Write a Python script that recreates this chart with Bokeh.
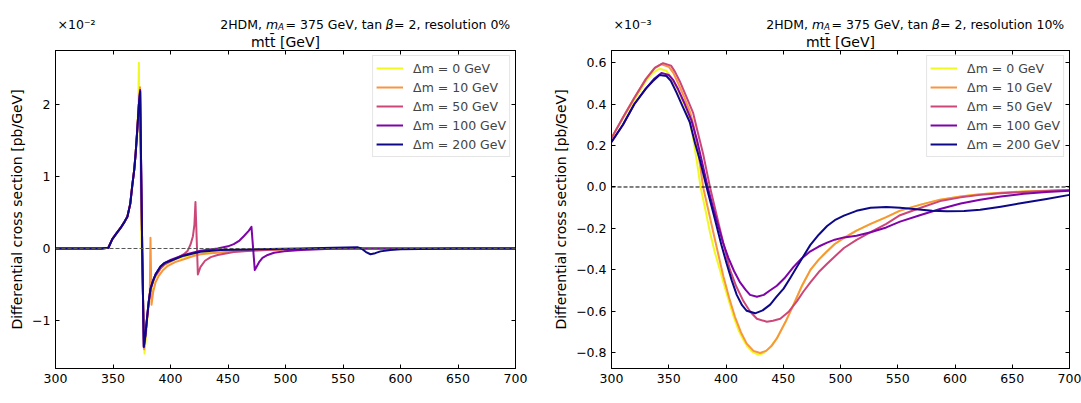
from bokeh.plotting import figure
from bokeh.models import (Range1d, LinearAxis, FixedTicker, CustomJSTickFormatter,
                          Span, Label, Legend, LegendItem)
from bokeh.layouts import row, column
from bokeh.embed import file_html
from bokeh.resources import INLINE

FONT = "DejaVu Sans"

# ---------------- data ----------------
series_labels = ["Δm = 0 GeV", "Δm = 10 GeV", "Δm = 50 GeV", "Δm = 100 GeV", "Δm = 200 GeV"]
series_colors = ["#f0f921", "#f89540", "#cc4778", "#7e03a8", "#0d0887"]
x_ticks = [300, 350, 400, 450, 500, 550, 600, 650, 700]
left_y_ticks = [-1, 0, 1, 2]
right_y_ticks = [-0.8, -0.6, -0.4, -0.2, 0.0, 0.2, 0.4, 0.6]
x_axis_title = "mtt\u0304 [GeV]"
y_axis_title = "Differential cross section [pb/GeV]"

# Left panel (resolution 0%), values in units of 1e-2 pb/GeV
left_x_dm0 = [300, 340, 346, 349.4, 353, 356.6, 360, 362.5, 365, 366.8, 368.5, 369.7, 371.2, 372.0, 372.5,
              373.2, 375.0, 377.4, 378.5, 379.7, 381, 382.6, 385, 387, 391.3, 395, 400, 405, 411.6, 420, 426,
              435, 443.5, 455, 470, 500, 550, 600, 700]
left_y_dm0 = [0, 0, 0.01, 0.13, 0.21, 0.285, 0.37, 0.44, 0.62, 0.88, 1.1, 1.32, 1.67, 2.0, 2.58,
              1.6, 0.0, -1.46, -1.25, -1.0, -0.8, -0.62, -0.48, -0.40, -0.28, -0.23, -0.19, -0.15, -0.12, -0.09, -0.07,
              -0.055, -0.04, -0.03, -0.02, -0.01, 0, 0, 0]

left_x_dm10 = [300, 340, 346, 349.4, 353, 356.6, 360, 362.5, 365, 366.8, 368.5, 369.7, 371.2, 372.5, 373.5,
               375.2, 377.0, 378.5, 379.7, 381.0, 382.0, 382.6, 383.5, 385, 387, 389.8, 393, 397, 404, 411.6,
               420, 426, 435, 443.5, 455, 470, 484, 510, 560, 700]
left_y_dm10 = [0, 0, 0.01, 0.13, 0.21, 0.285, 0.37, 0.44, 0.62, 0.88, 1.1, 1.32, 1.67, 2.0, 2.24,
               0.0, -1.40, -1.2, -0.98, -0.78, -0.6, 0.15, -0.78, -0.6, -0.47, -0.38, -0.31, -0.25, -0.19, -0.15,
               -0.105, -0.08, -0.065, -0.055, -0.04, -0.03, -0.02, -0.01, 0, 0]

left_x_dm50 = [300, 340, 346, 349.4, 353, 356.6, 360, 362.5, 365, 366.8, 368.5, 369.7, 371.2, 372.5, 373.6,
               375.4, 376.8, 378.2, 379.7, 381, 382.6, 385, 387, 391.3, 395, 400, 406, 411.6, 415, 417.5,
               419.5, 420.8, 421.7, 423.8, 426, 430, 435, 441, 455, 470, 500, 540, 700]
left_y_dm50 = [0, 0, 0.01, 0.13, 0.21, 0.285, 0.37, 0.44, 0.62, 0.88, 1.1, 1.32, 1.67, 2.0, 2.2,
               0.0, -1.37, -1.2, -0.95, -0.75, -0.57, -0.45, -0.38, -0.28, -0.22, -0.18, -0.13, -0.08, -0.03, 0.06,
               0.17, 0.33, 0.645, -0.36, -0.26, -0.17, -0.12, -0.09, -0.05, -0.03, -0.01, 0, 0]

left_x_dm100 = [300, 340, 346, 349.4, 353, 356.6, 360, 362.5, 365, 366.8, 368.5, 369.7, 371.2, 372.5, 373.6,
                375.4, 376.8, 378.2, 379.7, 381, 382.6, 385, 387, 391.3, 395, 400, 411.6, 426, 441, 450,
                455, 460, 463.7, 468, 470.4, 473.3, 475, 477, 480, 484.5, 490, 498.7, 513.5, 540, 560, 700]
left_y_dm100 = [0, 0, 0.01, 0.13, 0.21, 0.285, 0.37, 0.44, 0.62, 0.88, 1.1, 1.32, 1.67, 2.0, 2.2,
                0.0, -1.37, -1.2, -0.95, -0.75, -0.56, -0.44, -0.36, -0.25, -0.2, -0.16, -0.09, -0.03, 0.0, 0.03,
                0.06, 0.11, 0.17, 0.245, 0.30, -0.30, -0.25, -0.19, -0.13, -0.09, -0.06, -0.04, -0.02, -0.005, 0, 0]

left_x_dm200 = [300, 340, 346, 349.4, 353, 356.6, 360, 362.5, 365, 366.8, 368.5, 369.7, 371.2, 372.5, 373.6,
                375.4, 376.8, 378.2, 379.7, 381, 382.6, 385, 387, 391.3, 395, 400, 411.6, 426, 443.5, 470,
                513.5, 542, 563, 566, 570, 573.9, 578, 582.6, 591.3, 600, 650, 700]
left_y_dm200 = [0, 0, 0.01, 0.13, 0.21, 0.285, 0.37, 0.44, 0.62, 0.88, 1.1, 1.32, 1.67, 2.0, 2.18,
                0.0, -1.36, -1.2, -0.95, -0.75, -0.56, -0.44, -0.36, -0.25, -0.2, -0.17, -0.10, -0.045, -0.02, -0.013,
                0.0, 0.01, 0.016, 0.0, -0.05, -0.08, -0.065, -0.04, -0.02, -0.01, 0, 0]

# Right panel (resolution 10%), values in units of 1e-3 pb/GeV
right_x_dm0 = [300, 310, 320, 330, 336, 342, 348, 352, 356.7, 361, 365.5, 368.5, 371.3, 374.5, 377.8, 382,
               386, 390, 394.7, 399, 403.5, 407, 410.8, 414.5, 418.1, 423, 428.4, 433, 438, 444.4, 452, 459,
               466, 473.7, 481, 488.3, 495, 503, 514, 526.3, 540, 552, 570, 587, 605, 622, 640, 660, 680, 700]
right_y_dm0 = [0.236, 0.33, 0.42, 0.51, 0.55, 0.57, 0.56, 0.53, 0.479, 0.43, 0.373, 0.31, 0.236, 0.125, 0.0,
               -0.11, -0.218, -0.31, -0.40, -0.485, -0.567, -0.63, -0.688, -0.73, -0.764, -0.795, -0.809, -0.80,
               -0.775, -0.73, -0.65, -0.567, -0.48, -0.40, -0.35, -0.31, -0.275, -0.245, -0.21, -0.178, -0.145,
               -0.114, -0.085, -0.061, -0.046, -0.035, -0.028, -0.022, -0.018, -0.015]

right_x_dm10 = [300, 310, 320, 330, 337, 343.6, 350, 354, 358.2, 363, 368.4, 372, 375, 377.5, 380, 384.5,
                388.9, 393.3, 397.7, 402.8, 407.9, 413, 418.1, 424, 429.8, 435, 440, 444.4, 452, 459, 466,
                473.7, 481, 488.3, 495, 503, 514, 526.3, 540, 552, 570, 587, 605, 622, 640, 660, 680, 700]
right_y_dm10 = [0.236, 0.335, 0.43, 0.52, 0.57, 0.592, 0.58, 0.55, 0.50, 0.44, 0.365, 0.29, 0.19, 0.1, 0.0,
                -0.11, -0.218, -0.325, -0.43, -0.535, -0.627, -0.70, -0.755, -0.79, -0.80, -0.79, -0.765, -0.73,
                -0.65, -0.567, -0.48, -0.40, -0.35, -0.31, -0.275, -0.245, -0.21, -0.178, -0.145, -0.114, -0.085,
                -0.061, -0.046, -0.035, -0.028, -0.022, -0.018, -0.015]

right_x_dm50 = [300, 310, 320, 330, 338, 345, 352, 355.5, 359.6, 365, 371.3, 375.5, 380, 383, 386, 390.3,
                394.7, 399, 403.5, 409, 415.2, 421, 427, 435.7, 441, 447.4, 455, 462, 467.5, 473.7, 481,
                488.3, 495, 503, 514, 526.3, 540, 552, 570, 587, 605, 622, 640, 660, 680, 700]
right_y_dm50 = [0.236, 0.335, 0.43, 0.52, 0.575, 0.597, 0.585, 0.555, 0.51, 0.44, 0.357, 0.26, 0.16, 0.08, 0.0,
                -0.10, -0.203, -0.30, -0.40, -0.48, -0.55, -0.60, -0.635, -0.65, -0.645, -0.635, -0.60, -0.55,
                -0.505, -0.46, -0.41, -0.37, -0.335, -0.294, -0.255, -0.218, -0.178, -0.136, -0.10, -0.068,
                -0.05, -0.038, -0.03, -0.024, -0.019, -0.015]

right_x_dm100 = [300, 310, 320, 330, 337, 343.6, 350, 354, 358.2, 364, 369.9, 374.5, 378.7, 384, 388.5, 393.3,
                 397.5, 402, 407, 412.3, 417, 421, 427, 433, 438, 444.4, 451, 459, 466, 473.7, 481, 488.3, 495,
                 503, 514, 526.3, 540, 552, 570, 587, 605, 622, 640, 660, 680, 700]
right_y_dm100 = [0.217, 0.30, 0.40, 0.474, 0.52, 0.55, 0.54, 0.515, 0.471, 0.40, 0.32, 0.23, 0.13, 0.0, -0.095,
                 -0.188, -0.27, -0.34, -0.405, -0.46, -0.495, -0.52, -0.529, -0.52, -0.5, -0.476, -0.44, -0.385,
                 -0.345, -0.31, -0.287, -0.268, -0.254, -0.243, -0.235, -0.218, -0.195, -0.167, -0.135, -0.106,
                 -0.08, -0.061, -0.046, -0.033, -0.024, -0.018]

right_x_dm200 = [300, 310, 320, 330, 336, 342, 348, 352, 356.7, 362, 368.4, 373, 377.2, 383, 387.5, 391.8,
                 396, 400.6, 405, 409.4, 414, 418.1, 425.4, 432, 438.6, 444, 450.3, 456, 462, 468, 473.7, 481,
                 488.3, 495, 503, 514, 526.3, 540, 552, 564, 580, 593, 608, 622, 640, 660, 680, 700]
right_y_dm200 = [0.217, 0.30, 0.40, 0.474, 0.51, 0.54, 0.535, 0.51, 0.456, 0.39, 0.312, 0.21, 0.13, 0.0, -0.095,
                 -0.188, -0.28, -0.37, -0.45, -0.52, -0.57, -0.597, -0.609, -0.595, -0.567, -0.53, -0.49, -0.44,
                 -0.385, -0.33, -0.279, -0.23, -0.188, -0.16, -0.138, -0.115, -0.10, -0.097, -0.10, -0.106,
                 -0.115, -0.117, -0.116, -0.11, -0.095, -0.076, -0.058, -0.038]

left_series = [(left_x_dm0, left_y_dm0), (left_x_dm10, left_y_dm10), (left_x_dm50, left_y_dm50),
               (left_x_dm100, left_y_dm100), (left_x_dm200, left_y_dm200)]
right_series = [(right_x_dm0, right_y_dm0), (right_x_dm10, right_y_dm10), (right_x_dm50, right_y_dm50),
                (right_x_dm100, right_y_dm100), (right_x_dm200, right_y_dm200)]

# ---------------- text helpers ----------------
W = {' ': 651, ',': 651, '%': 1946, '=': 1716, 'A': 1401, 'D': 1577, 'G': 1577, 'H': 1540, 'M': 1767,
     'V': 1401, 'a': 1255, 'e': 1260, 'i': 569, 'l': 569, 'm': 1995, 'n': 1298, 'o': 1253, 'r': 842,
     's': 1067, 't': 803, 'u': 1298, 'β': 1300, '[': 799, ']': 799, '\u0304': 0}
for d in "0123456789":
    W[d] = 1303


def tw(s, size):
    return sum(W.get(c, 1200) for c in s) / 2048.0 * size


def rich(p, pieces, x0, y0, align="left"):
    # pieces: (text, size, italic, dy, dx_before)
    total = sum(tw(t, s) + dx for t, s, it, dy, dx in pieces)
    if align == "right":
        x = x0 - total
    elif align == "center":
        x = x0 - total / 2.0
    else:
        x = x0
    for t, s, it, dy, dx in pieces:
        x += dx
        p.add_layout(Label(x=x, y=y0 + dy, text=t,
                           text_font=FONT, text_font_size=f"{s}px",
                           text_font_style="italic" if it else "normal",
                           text_baseline="alphabetic", text_align="left", text_color="black"))
        x += tw(t, s)


TOTAL_W = 1081
HEAD_H, MAIN_H = 30, 373
L_FRAME = (55, 515)
R_FRAME = (611, 1069)


def strip_fig(h):
    f = figure(width=TOTAL_W, height=h, x_range=Range1d(0, TOTAL_W), y_range=Range1d(0, h),
               x_axis_type=None, y_axis_type=None, output_backend="svg", toolbar_location=None,
               min_border=0, outline_line_color=None, title=None)
    f.background_fill_color = "white"
    f.border_fill_color = "white"
    return f


def make_fig(width, bl, br, yr, yticks, fmt_code, series, zero_color):
    p = figure(width=width, height=MAIN_H, x_range=Range1d(300, 700), y_range=Range1d(*yr),
               output_backend="svg", toolbar_location=None, title=None,
               min_border_left=bl, min_border_right=br, min_border_top=0, min_border_bottom=35)
    p.grid.visible = False
    p.outline_line_color = "black"
    p.outline_line_width = 1
    p.background_fill_color = "white"
    p.border_fill_color = "white"

    xt = FixedTicker(ticks=x_ticks)
    yt = FixedTicker(ticks=yticks)
    p.xaxis.ticker = xt
    p.yaxis.ticker = yt
    p.yaxis.formatter = CustomJSTickFormatter(code=fmt_code)
    empty = "return ''"
    top_ax = LinearAxis(ticker=xt, formatter=CustomJSTickFormatter(code=empty))
    right_ax = LinearAxis(ticker=yt, formatter=CustomJSTickFormatter(code=empty))
    p.add_layout(top_ax, "above")
    p.add_layout(right_ax, "right")
    for ax in p.axis:
        ax.major_tick_in = 4
        ax.major_tick_out = 0
        ax.minor_tick_in = 0
        ax.minor_tick_out = 0
        ax.major_tick_line_color = "black"
        ax.axis_line_color = "black"
        ax.major_label_text_font = FONT
        ax.major_label_text_font_size = "12.5px"
        ax.major_label_text_color = "black"
        ax.major_label_standoff = 5
    for ax in (top_ax, right_ax):
        ax.major_label_text_font_size = "0px"
        ax.major_label_standoff = 0

    xa = p.xaxis[0]
    xa.major_label_standoff = 3
    xa.axis_label = x_axis_title
    xa.axis_label_text_font = FONT
    xa.axis_label_text_font_size = "14px"
    xa.axis_label_text_font_style = "normal"
    xa.axis_label_text_color = "black"
    xa.axis_label_standoff = 1

    ya = p.yaxis[0]
    ya.axis_label = y_axis_title
    ya.axis_label_text_font = FONT
    ya.axis_label_text_font_size = "14px"
    ya.axis_label_text_font_style = "normal"
    ya.axis_label_text_color = "black"
    ya.axis_label_standoff = 4

    items = []
    for (xs, ys), col, lab in zip(series, series_colors, series_labels):
        r = p.line(xs, ys, line_color=col, line_width=2, line_join="round")
        items.append(LegendItem(label=lab, renderers=[r]))

    p.add_layout(Span(location=0, dimension="width", line_color=zero_color, line_width=1,
                      line_dash="4 2"))

    leg = Legend(items=items, location="top_right", margin=5, padding=3, spacing=1,
                 label_height=18, glyph_height=18, glyph_width=27, label_standoff=10,
                 label_text_font=FONT, label_text_font_size="12.5px",
                 border_line_color="#cccccc", border_line_width=1,
                 background_fill_color="white", background_fill_alpha=0.8)
    p.add_layout(leg)
    return p


fmt_left = "var s = tick.toFixed(0); if (tick < 0) { s = '\u2212' + Math.abs(tick).toFixed(0); } return s;"
fmt_right = ("var v = Math.abs(tick) < 1e-9 ? 0 : tick; var s = Math.abs(v).toFixed(1);"
             " return v < 0 ? '\u2212' + s : s;")

p1 = make_fig(540, 55, 25, (-1.667, 2.75), left_y_ticks, fmt_left, left_series, "#555555")
p2 = make_fig(541, 71, 12, (-0.875, 0.658), right_y_ticks, fmt_right, right_series, "black")

# header: multipliers and titles
head = strip_fig(HEAD_H)
base_y = HEAD_H - 23.5
for (fl, fr), mult, res in ((L_FRAME, "×10⁻²", "0%"), (R_FRAME, "×10⁻³", "10%")):
    head.add_layout(Label(x=fl + 2, y=base_y, text=mult, text_font=FONT, text_font_size="12.5px",
                          text_baseline="alphabetic", text_color="black"))
    rich(head, [("2HDM, ", 12.5, False, 0, 0), ("m", 12.5, True, 0, 0), ("A", 8.75, True, -2.5, 0),
                (" = 375 GeV, tan", 12.5, False, 0, 1.5), ("β", 12.5, True, 0, -0.5),
                (f" = 2, resolution {res}", 12.5, False, 0, 0.5)], fr - 1, base_y, "right")

layout = column(head, row(p1, p2, spacing=0), spacing=0)
open("out.html", "w").write(file_html(layout, INLINE))
